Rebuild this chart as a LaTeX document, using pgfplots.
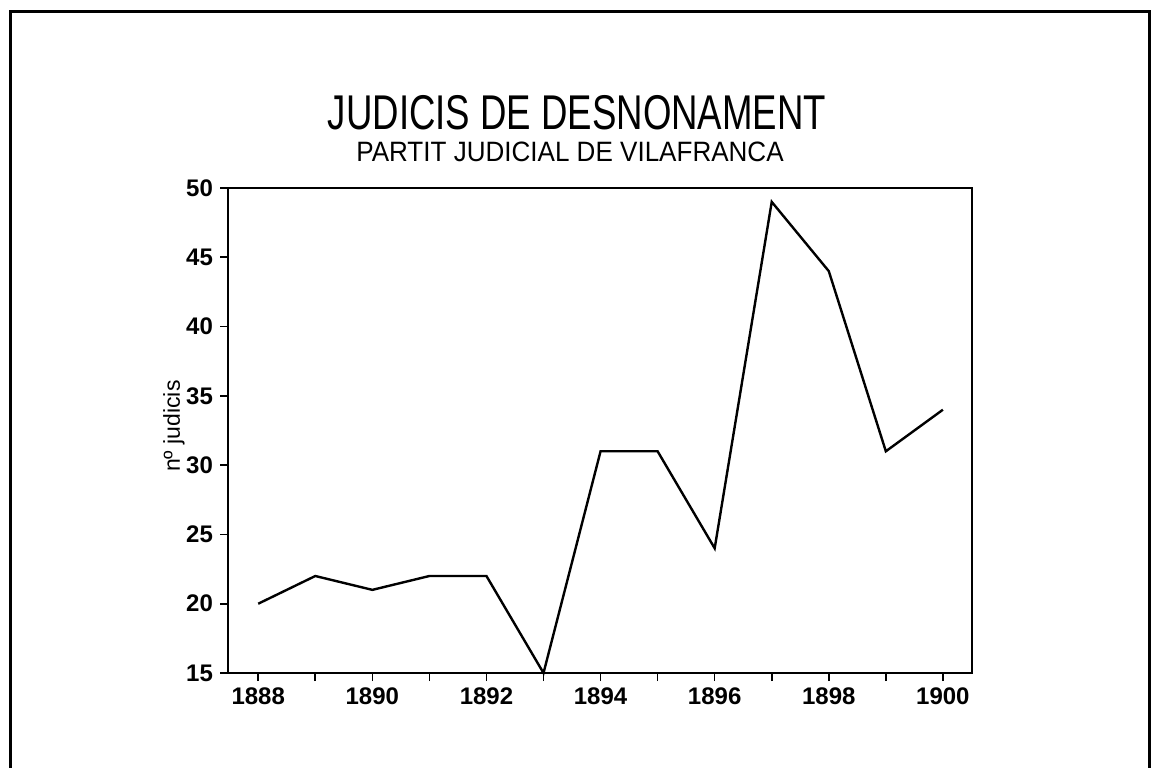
\documentclass[border=0pt]{standalone}
\usepackage{fontspec}
\setmainfont{Liberation Sans}
\usepackage{pgfplots}
\pgfplotsset{compat=1.18}
\begin{document}
\begin{tikzpicture}
\useasboundingbox (-114pt,-47pt) rectangle (462pt,336.5pt);
\fill[white] (-114pt,-47pt) rectangle (462pt,336.5pt);
\draw[line width=1.5pt] (-108.75pt,-49pt) rectangle (460.5pt,330.5pt);
\begin{axis}[at={(0,0)}, anchor=south west, width=372pt, height=242.5pt, scale only axis,
  xmin=1887.47, xmax=1900.51, ymin=15, ymax=50,
  xtick={1888,1890,...,1900}, minor xtick={1889,1891,...,1899},
  ytick={15,20,...,50},
  tick align=outside, xtick pos=left, ytick pos=left,
  major tick length=4pt, minor tick length=4pt,
  /pgf/number format/1000 sep={},
  /pgf/number format/assume math mode=true,
  tick label style={font=\fontsize{12}{12}\selectfont\bfseries},
  axis line style={line width=1pt},
  every tick/.style={black, line width=0.8pt},
  ylabel={nº judicis},
  ylabel style={font=\fontsize{11.5}{11.5}\selectfont, at={(axis description cs:-0.0726,0.509)}, anchor=center},
  clip=false]
\addplot[black, line width=1.2pt] coordinates {
(1888,20) (1889,22) (1890,21) (1891,22) (1892,22) (1893,15) (1894,31)
(1895,31) (1896,24) (1897,49) (1898,44) (1899,31) (1900,34)};
\end{axis}
\node[font=\fontsize{24.4}{24.4}\selectfont, xscale=0.75, inner sep=0pt] at (174.5pt,280.25pt) {JUDICIS DE DESNONAMENT};
\node[font=\fontsize{14}{14}\selectfont, xscale=0.93, inner sep=0pt] at (171pt,260.5pt) {PARTIT JUDICIAL DE VILAFRANCA};
\end{tikzpicture}
\end{document}
